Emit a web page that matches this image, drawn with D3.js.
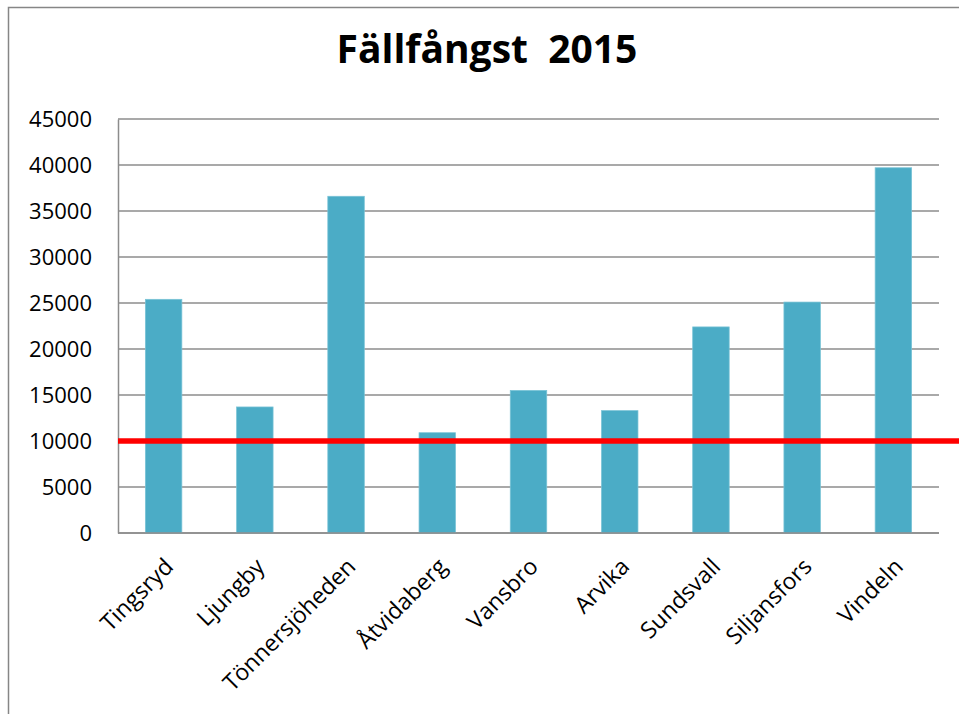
<!DOCTYPE html>
<html>
<head>
<meta charset="utf-8">
<script src="https://cdn.jsdelivr.net/npm/d3@7"></script>
<style>
  body { margin: 0; background: #fff; }
  svg { display: block; }
</style>
</head>
<body>
<div id="chart"></div>
<script>
// chart data
const sites = ['Tingsryd', 'Ljungby', 'Tönnersjöheden', 'Åtvidaberg', 'Vansbro', 'Arvika', 'Sundsvall', 'Siljansfors', 'Vindeln'];
const catches = [25400, 13700, 36600, 10900, 15500, 13300, 22400, 25100, 39700];
const yTicks = [0, 5000, 10000, 15000, 20000, 25000, 30000, 35000, 40000, 45000];
const threshold = [10000];
const title = 'Fällfångst  2015';

const width = 959, height = 714;
const margin = { top: 119, right: 20, bottom: 181, left: 118 };
const plotRight = 939;

const svg = d3.select('#chart')
  .append('svg')
  .attr('width', width)
  .attr('height', height);

// outer chart frame (runs off the right and bottom edges)
svg.append('rect')
  .attr('x', 8.5)
  .attr('y', 7.5)
  .attr('width', 980)
  .attr('height', 740)
  .attr('fill', '#fff')
  .attr('stroke', '#868686')
  .attr('stroke-width', 1.5);

const x = d3.scaleBand()
  .domain(sites)
  .range([margin.left, plotRight])
  .paddingInner(0.6)
  .paddingOuter(0.3);

const y = d3.scaleLinear()
  .domain([0, 45000])
  .range([height - margin.bottom, margin.top]);

// gridlines
svg.append('g')
  .selectAll('line')
  .data(yTicks)
  .join('line')
  .attr('x1', margin.left)
  .attr('x2', plotRight)
  .attr('y1', d => y(d))
  .attr('y2', d => y(d))
  .attr('stroke', '#8c8c8c')
  .attr('stroke-width', 1.5);

// y axis
const yAxis = svg.append('g')
  .attr('transform', `translate(${margin.left},0)`)
  .call(d3.axisLeft(y).tickValues(yTicks).tickSize(0).tickPadding(26).tickFormat(d3.format('d')));
yAxis.select('.domain').attr('stroke', '#8c8c8c').attr('stroke-width', 1.5);
yAxis.selectAll('text')
  .attr('font-family', '"Open Sans", sans-serif')
  .attr('font-size', 22)
  .attr('fill', '#000');

// bars
svg.append('g')
  .selectAll('rect')
  .data(sites)
  .join('rect')
  .attr('x', d => x(d))
  .attr('width', x.bandwidth())
  .attr('y', (d, i) => y(catches[i]))
  .attr('height', (d, i) => y(0) - y(catches[i]))
  .attr('fill', '#4bacc6')
  .attr('stroke', '#79c3d6')
  .attr('stroke-width', 0.75);

// x axis baseline
svg.append('line')
  .attr('x1', margin.left)
  .attr('x2', plotRight)
  .attr('y1', y(0))
  .attr('y2', y(0))
  .attr('stroke', '#8c8c8c')
  .attr('stroke-width', 1.5);

// x labels rotated
svg.append('g')
  .selectAll('text')
  .data(sites)
  .join('text')
  .attr('transform', d => `translate(${x(d) + x.bandwidth() / 2 - 1},${y(0) + 23}) rotate(-45)`)
  .attr('dy', '0.74em')
  .attr('text-anchor', 'end')
  .attr('font-family', '"Open Sans", sans-serif')
  .attr('font-size', 23)
  .attr('fill', '#000')
  .text(d => d);

// threshold line
svg.append('g')
  .selectAll('line')
  .data(threshold)
  .join('line')
  .attr('x1', margin.left)
  .attr('x2', width)
  .attr('y1', d => y(d))
  .attr('y2', d => y(d))
  .attr('stroke', '#ff0000')
  .attr('stroke-width', 5.5);

// title
svg.append('text')
  .attr('x', 487)
  .attr('y', 63)
  .attr('text-anchor', 'middle')
  .attr('font-family', '"Open Sans", sans-serif')
  .attr('font-weight', 'bold')
  .attr('font-size', 39)
  .attr('fill', '#000')
  .style('white-space', 'pre')
  .text(title);
</script>
</body>
</html>
